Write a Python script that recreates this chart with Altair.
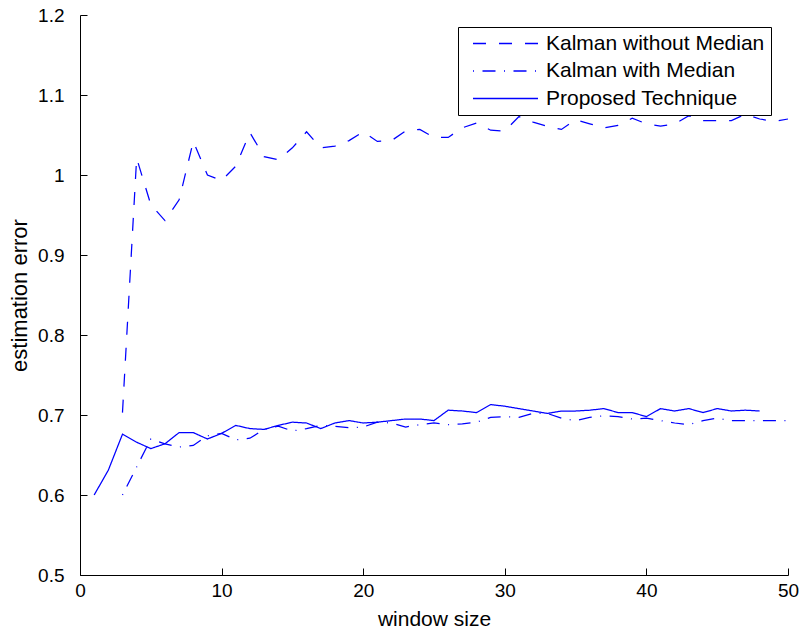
import altair as alt
import pandas as pd

# ---- data ----
series_names = ["Kalman without Median", "Kalman with Median", "Proposed Technique"]

x_without = list(range(3, 51))
y_without = [0.703, 1.021, 0.963, 0.943, 0.969, 1.042, 1.000, 0.993, 1.011, 1.053,
             1.023, 1.019, 1.034, 1.054, 1.034, 1.036, 1.043, 1.054, 1.042, 1.043,
             1.055, 1.057, 1.047, 1.047, 1.059, 1.065, 1.056, 1.055, 1.073, 1.066,
             1.061, 1.057, 1.069, 1.064, 1.059, 1.062, 1.071, 1.064, 1.061, 1.064,
             1.074, 1.068, 1.068, 1.068, 1.076, 1.070, 1.067, 1.070]

x_with = list(range(3, 51))
y_with = [0.600, 0.635, 0.670, 0.664, 0.660, 0.662, 0.674, 0.677, 0.669, 0.671,
          0.682, 0.686, 0.680, 0.683, 0.687, 0.686, 0.684, 0.685, 0.691, 0.690,
          0.685, 0.688, 0.690, 0.688, 0.689, 0.691, 0.697, 0.698, 0.697, 0.702,
          0.702, 0.696, 0.693, 0.697, 0.699, 0.698, 0.695, 0.696, 0.693, 0.690,
          0.688, 0.693, 0.696, 0.693, 0.693, 0.693, 0.693, 0.693]

x_prop = list(range(1, 49))
y_prop = [0.600, 0.631, 0.676, 0.666, 0.658, 0.664, 0.678, 0.678, 0.670, 0.677,
          0.687, 0.683, 0.682, 0.687, 0.691, 0.690, 0.683, 0.690, 0.693, 0.690,
          0.691, 0.693, 0.695, 0.695, 0.693, 0.706, 0.705, 0.703, 0.713, 0.711,
          0.708, 0.705, 0.702, 0.705, 0.705, 0.706, 0.708, 0.703, 0.703, 0.698,
          0.708, 0.705, 0.708, 0.703, 0.708, 0.705, 0.706, 0.705]

x_ticks = [0, 10, 20, 30, 40, 50]
y_ticks = [0.5, 0.6, 0.7, 0.8, 0.9, 1.0, 1.1, 1.2]

rows = []
for name, xs, ys in [(series_names[0], x_without, y_without),
                     (series_names[1], x_with, y_with),
                     (series_names[2], x_prop, y_prop)]:
    for xv, yv in zip(xs, ys):
        rows.append({"series": name, "x": xv, "y": yv, "c": "line"})
df = pd.DataFrame(rows)

FONT = "Liberation Sans"
W, H = 708, 560
BLUE = "#0000ff"

xscale = alt.Scale(domain=[0, 50], nice=False, zero=False)
yscale = alt.Scale(domain=[0.5, 1.2], nice=False, zero=False)

legend = alt.Legend(
    title=None, orient="none", legendX=378, legendY=12,
    strokeColor="black", fillColor="white", padding=6,
    symbolType="stroke", symbolSize=4225, symbolStrokeWidth=1.3,
    symbolStrokeColor=BLUE,
    clipHeight=21, rowPadding=5.5,
    labelFontSize=21, labelFont=FONT, labelColor="black",
    labelOffset=7, symbolOffset=8, labelLimit=400,
)

lines = alt.Chart(df).mark_line(strokeWidth=1.25).encode(
    x=alt.X("x:Q", scale=xscale,
            axis=alt.Axis(values=x_ticks, title="window size", ticks=False, grid=False,
                          labelFlush=False, labelPadding=6, titlePadding=8)),
    y=alt.Y("y:Q", scale=yscale,
            axis=alt.Axis(values=y_ticks, title="estimation error", ticks=False, grid=False,
                          format=".1~f", labelPadding=16, titlePadding=6,
                          titleFontSize=22)),
    color=alt.Color("c:N", scale=alt.Scale(range=[BLUE]), legend=None),
    strokeDash=alt.StrokeDash(
        "series:N", sort=series_names,
        scale=alt.Scale(domain=series_names, range=[[13, 13], [1, 8.5, 13, 8.5], [1, 0]]),
        legend=legend,
    ),
)

# inward-pointing ticks (MATLAB style) via opposite-side axes shifted into place
tick_layer = alt.Chart(df).mark_point(opacity=0).encode(
    x=alt.X("x:Q", scale=xscale,
            axis=alt.Axis(orient="top", offset=-H, values=x_ticks, labels=False,
                          domain=False, title=None, grid=False, ticks=True, tickSize=7,
                          tickColor="black")),
    y=alt.Y("y:Q", scale=yscale,
            axis=alt.Axis(orient="right", offset=-W, values=y_ticks, labels=False,
                          domain=False, title=None, grid=False, ticks=True, tickSize=7,
                          tickColor="black")),
)

chart = alt.layer(lines, tick_layer).resolve_axis(
    x="independent", y="independent"
).properties(
    width=W, height=H,
    autosize=alt.AutoSizeParams(type="none"),
    padding={"left": 80, "top": 15, "right": 14, "bottom": 62},
    background="white",
).configure_view(stroke=None).configure_axis(
    domainColor="black", domainWidth=1,
    labelFont=FONT, labelFontSize=19, labelColor="black",
    titleFont=FONT, titleFontSize=21, titleColor="black", titleFontWeight="normal",
).configure_legend(
    symbolBaseStrokeColor=BLUE, symbolStrokeColor=BLUE,
)

chart.save("out.html", embed_options={"renderer": "svg", "actions": False})
